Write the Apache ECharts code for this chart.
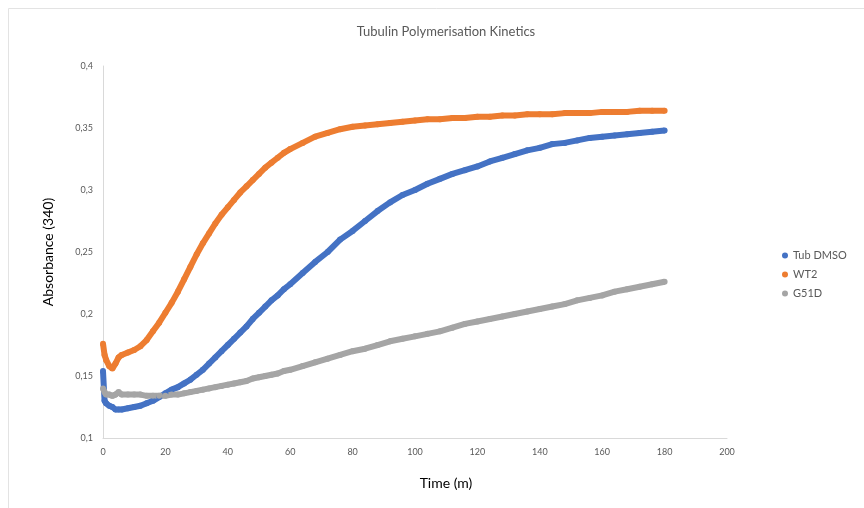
<!DOCTYPE html>
<html>
<head>
<meta charset="utf-8">
<script src="https://cdn.jsdelivr.net/npm/echarts@6/dist/echarts.min.js"></script>
<style>
  html, body { margin: 0; padding: 0; background: #fff; }
  #main { width: 864px; height: 508px; }
</style>
</head>
<body>
<div id="main"></div>
<script>
// time (minutes)
var times = [0, 0.5, 1, 2, 3, 4, 5, 6, 8, 10, 12, 14, 16, 18, 20, 22, 24, 26, 28, 30,
  32, 34, 36, 38, 40, 42, 44, 46, 48, 50, 52, 54, 56, 58, 60,
  64, 68, 72, 76, 80, 84, 88, 92, 96, 100, 104, 108, 112, 116, 120,
  124, 128, 132, 136, 140, 144, 148, 152, 156, 160, 164, 168, 172, 176, 180]

var tubDmso = [0.154, 0.130, 0.128, 0.126, 0.125, 0.123, 0.123, 0.123, 0.124, 0.125, 0.126, 0.128, 0.130, 0.133, 0.136, 0.139, 0.141, 0.144, 0.147, 0.151,
  0.155, 0.160, 0.165, 0.170, 0.175, 0.180, 0.185, 0.190, 0.196, 0.201, 0.206, 0.211, 0.215, 0.220, 0.224,
  0.233, 0.242, 0.250, 0.260, 0.267, 0.275, 0.283, 0.290, 0.296, 0.300, 0.305, 0.309, 0.313, 0.316, 0.319,
  0.323, 0.326, 0.329, 0.332, 0.334, 0.337, 0.338, 0.340, 0.342, 0.343, 0.344, 0.345, 0.346, 0.347, 0.348]

var wt2 = [0.176, 0.167, 0.163, 0.158, 0.156, 0.160, 0.165, 0.167, 0.169, 0.171, 0.174, 0.179, 0.186, 0.193, 0.201, 0.209, 0.218, 0.228, 0.238, 0.248,
  0.257, 0.265, 0.273, 0.280, 0.286, 0.292, 0.298, 0.303, 0.308, 0.313, 0.318, 0.322, 0.326, 0.330, 0.333,
  0.338, 0.343, 0.346, 0.349, 0.351, 0.352, 0.353, 0.354, 0.355, 0.356, 0.357, 0.357, 0.358, 0.358, 0.359,
  0.359, 0.360, 0.360, 0.361, 0.361, 0.361, 0.362, 0.362, 0.362, 0.363, 0.363, 0.363, 0.364, 0.364, 0.364]

var g51d = [0.140, 0.137, 0.135, 0.135, 0.134, 0.135, 0.137, 0.135, 0.135, 0.135, 0.135, 0.134, 0.134, 0.134, 0.134, 0.135, 0.135, 0.136, 0.137, 0.138,
  0.139, 0.140, 0.141, 0.142, 0.143, 0.144, 0.145, 0.146, 0.148, 0.149, 0.150, 0.151, 0.152, 0.154, 0.155,
  0.158, 0.161, 0.164, 0.167, 0.170, 0.172, 0.175, 0.178, 0.180, 0.182, 0.184, 0.186, 0.189, 0.192, 0.194,
  0.196, 0.198, 0.200, 0.202, 0.204, 0.206, 0.208, 0.211, 0.213, 0.215, 0.218, 0.220, 0.222, 0.224, 0.226]

var seriesNames = ['Tub DMSO', 'WT2', 'G51D']
var seriesColors = ['#4472C4', '#ED7D31', '#A5A5A5']

function pairs(ys){
  var out = []
  for (var i = 0; i < times.length; i++) {
    out.push([times[i], ys[i]])
  }
  return out
}

function makeSeries(name, ys, color){
  return {
    name: name,
    type: 'line',
    data: pairs(ys),
    symbol: 'circle',
    symbolSize: 6,
    showSymbol: true,
    itemStyle: { color: color },
    lineStyle: { color: color, width: 6 },
    animation: false
  }
}

var chart = echarts.init(document.getElementById('main'))
var font = 'Lato, "Open Sans", sans-serif'

var option = {
  backgroundColor: '#fff',
  textStyle: { fontFamily: font },
  title: [
    {
      text: 'Tubulin Polymerisation Kinetics',
      left: 441,
      top: 20,
      textAlign: 'center',
      textStyle: { fontSize: 13, fontWeight: 'normal', color: '#595959', fontFamily: font }
    },
    {
      text: 'Time (m)',
      left: 441,
      top: 471,
      textAlign: 'center',
      textStyle: { fontSize: 14, fontWeight: 'normal', color: '#000', fontFamily: font }
    }
  ],
  legend: {
    orient: 'vertical',
    left: 777,
    top: 245,
    icon: 'circle',
    itemWidth: 6,
    itemHeight: 6,
    itemGap: 8,
    data: seriesNames,
    textStyle: { fontSize: 11, color: '#595959', fontFamily: font }
  },
  grid: { left: 103, right: 137, top: 66, bottom: 70 },
  xAxis: {
    type: 'value',
    min: 0,
    max: 200,
    interval: 20,
    axisLine: { show: true, lineStyle: { color: '#d9d9d9', width: 1 } },
    axisTick: { show: false },
    splitLine: { show: false },
    axisLabel: { fontSize: 9, color: '#595959', margin: 10 }
  },
  yAxis: {
    type: 'value',
    min: 0.1,
    max: 0.4,
    interval: 0.05,
    name: 'Absorbance (340)',
    nameLocation: 'middle',
    nameGap: 48,
    nameTextStyle: { fontSize: 14, color: '#000', fontFamily: font },
    axisLine: { show: true, lineStyle: { color: '#d9d9d9', width: 1 } },
    axisTick: { show: false },
    splitLine: { show: false },
    axisLabel: {
      fontSize: 9,
      color: '#595959',
      margin: 10,
      formatter: function (v) {
        return String(+v.toFixed(2)).replace('.', ',')
      }
    }
  },
  graphic: [
    {
      type: 'rect',
      shape: { x: 8.5, y: 8.5, width: 900, height: 560 },
      style: { fill: 'none', stroke: '#e3e3e3', lineWidth: 1 },
      silent: true,
      z: -1
    }
  ],
  series: [
    makeSeries(seriesNames[0], tubDmso, seriesColors[0]),
    makeSeries(seriesNames[1], wt2, seriesColors[1]),
    makeSeries(seriesNames[2], g51d, seriesColors[2])
  ]
}
chart.setOption(option)
</script>
</body>
</html>
